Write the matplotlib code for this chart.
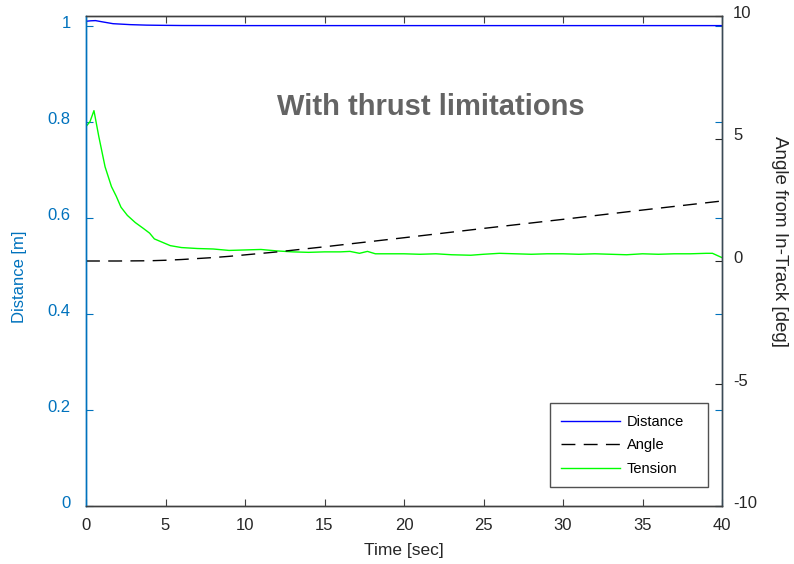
import matplotlib
matplotlib.use("Agg")
import matplotlib.pyplot as plt
from matplotlib.transforms import ScaledTranslation

plt.rcParams['font.family'] = ['Liberation Sans', 'DejaVu Sans']
plt.rcParams['axes.unicode_minus'] = False

# ---- data ----
dist_t = [0, 0.3, 0.6, 1.0, 1.7, 2.8, 3.8, 4.7, 6, 8, 10, 15, 20, 25, 30, 35, 40]
dist_v = [1.009, 1.010, 1.0104, 1.008, 1.004, 1.002, 1.001, 1.0006, 1.0002, 1.0001,
          1.0, 1.0, 1.0, 1.0, 1.0, 1.0, 1.0]

angle_t = [0, 2, 4, 5, 6, 7, 8, 9, 10, 12, 15, 20, 25, 30, 35, 40]
angle_v = [0, 0.0, 0.01, 0.03, 0.06, 0.10, 0.14, 0.19, 0.25, 0.37, 0.58, 0.95,
           1.33, 1.70, 2.08, 2.45]

tens_t = [0, 0.25, 0.5, 0.8, 1.2, 1.6, 1.9, 2.2, 2.6, 3.1, 3.6, 4.0, 4.3, 4.8,
          5.3, 6.0, 6.5, 7.0, 8.0, 9.0, 10.0, 11.0, 12.0, 13.0, 14.0, 15.0,
          16.0, 16.6, 17.2, 17.7, 18.2, 19.0, 20.0, 21.0, 22.0, 23.0, 24.2,
          25.0, 26.0, 27.0, 28.0, 29.0, 30.0, 31.0, 32.0, 33.0, 34.0, 35.0,
          36.0, 37.0, 38.0, 39.0, 39.4, 40.0]
tens_v = [0.790, 0.800, 0.823, 0.770, 0.706, 0.665, 0.645, 0.622, 0.605, 0.590,
          0.578, 0.568, 0.556, 0.549, 0.542, 0.538, 0.537, 0.536, 0.535, 0.532,
          0.533, 0.534, 0.531, 0.529, 0.528, 0.529, 0.529, 0.530, 0.526, 0.530,
          0.525, 0.525, 0.525, 0.524, 0.525, 0.523, 0.522, 0.524, 0.526, 0.525,
          0.524, 0.525, 0.525, 0.524, 0.525, 0.524, 0.523, 0.525, 0.524, 0.525,
          0.525, 0.526, 0.526, 0.517]

title_text = "With thrust limitations"

# ---- figure ----
fig = plt.figure(figsize=(7.94, 5.64), dpi=100)
ax = fig.add_axes([86/794, 58/564, 636/794, 490/564])
ax2 = ax.twinx()

left_col = '#0072BD'
right_col = '#262626'

l1, = ax.plot(dist_t, dist_v, color='#0000FF', lw=1.0)
l3, = ax.plot(tens_t, tens_v, color='#00FF00', lw=1.0)
l2, = ax2.plot(angle_t, angle_v, color='black', lw=1.0, dashes=(10, 6))

ax.set_xlim(0, 40)
ax.set_ylim(0, 1.02)
ax2.set_ylim(-10, 10)
ax.set_xticks(range(0, 41, 5))
ax.set_yticks([0, 0.2, 0.4, 0.6, 0.8, 1.0])
ax.set_yticklabels(['0', '0.2', '0.4', '0.6', '0.8', '1'])
ax2.set_yticks([-10, -5, 0, 5, 10])

ax.tick_params(axis='x', direction='in', top=True, length=5, width=0.8,
               color='#404040', labelsize=12, labelcolor='#262626', pad=9)
ax.tick_params(axis='y', direction='in', right=True, length=5, width=0.8,
               color=left_col, labelcolor=left_col, labelsize=12, pad=11)
ax2.tick_params(axis='y', direction='in', length=5, width=0.8,
                color=right_col, labelcolor=right_col, labelsize=12, pad=8)

for a in (ax, ax2):
    a.spines['top'].set_color('#404040')
    a.spines['bottom'].set_color('#404040')
    a.spines['left'].set_color(left_col)
    a.spines['right'].set_color('#3a4a55')
    for s in a.spines.values():
        s.set_linewidth(1.0)

ax.set_xlabel('Time [sec]', fontsize=12.5, color='#262626', labelpad=7)
ax.set_ylabel('Distance [m]', fontsize=12, color=left_col,
              ha='center', va='center', rotation=90)
ax.yaxis.set_label_coords(-0.1038, 0.467)
ax2.set_ylabel('Angle from In-Track [deg]', fontsize=13.5, color='#262626',
               rotation=270, ha='center', va='center')
ax2.yaxis.set_label_coords(1.0905, 0.539)

ax2.text(21.7, 0.814, title_text, transform=ax2.get_xaxis_transform(),
         fontsize=21, fontweight='bold', color='#646464', ha='center', va='center')

leg = ax2.legend([l1, l2, l3], ['Distance', 'Angle', 'Tension'],
                 loc='lower left', bbox_to_anchor=(0.7296, 0.0388, 0.2484, 0.17),
                 mode='expand', borderaxespad=0, fontsize=10.5, frameon=True,
                 fancybox=False, handlelength=4.0, handletextpad=0.5,
                 labelspacing=0.65, borderpad=0.78)
leg.get_frame().set_edgecolor('#262626')
leg.get_frame().set_linewidth(1.0)

# shift y tick labels upward slightly (as in reference)
off = ScaledTranslation(0, 4/100, fig.dpi_scale_trans)
for lab in ax.get_yticklabels() + ax2.get_yticklabels():
    lab.set_transform(lab.get_transform() + off)

fig.savefig('out.png', dpi=100)
